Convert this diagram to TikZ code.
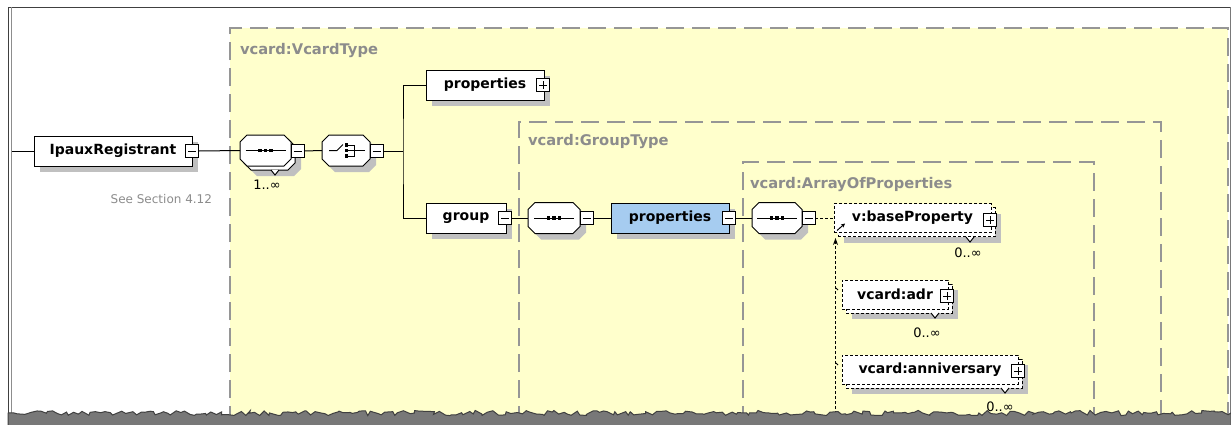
\documentclass[tikz,border=0pt]{standalone}
\usepackage{fontspec}
\setmainfont{DejaVu Sans}
\usetikzlibrary{shadows,decorations.pathmorphing,arrows.meta}

\definecolor{typebg}{RGB}{255,255,204}
\definecolor{typeline}{RGB}{150,150,150}
\definecolor{typelabel}{RGB}{140,140,140}
\definecolor{shade}{RGB}{192,192,192}
\definecolor{selfill}{RGB}{166,204,240}
\definecolor{frameline}{RGB}{64,64,64}
\definecolor{tornfill}{RGB}{120,120,120}

% octagonal outline of a compositor node, cut 7pt at each corner
\newcommand\compoutline[2]{%
  \path[#1] ([xshift=7pt]#2.north west) -- ([xshift=-7pt]#2.north east)
    -- ([yshift=-7pt]#2.north east) -- ([yshift=7pt]#2.south east)
    -- ([xshift=-7pt]#2.south east) -- ([xshift=7pt]#2.south west)
    -- ([yshift=7pt]#2.south west) -- ([yshift=-7pt]#2.north west) -- cycle;}

\tikzset{
  every node/.style={inner sep=0pt, outer sep=0pt},
  eshadow/.style={drop shadow={shadow xshift=6pt, shadow yshift=-6pt, fill=shade, opacity=1}},
  namefont/.style={font=\bfseries\fontsize{14}{16}\selectfont},
  elem/.style={draw=black, fill=white, minimum height=30, namefont, eshadow},
  dfront/.style={draw=black, fill=white, dash pattern=on 3pt off 2pt, minimum height=29, namefont},
  dback/.style={draw=black, fill=white, dash pattern=on 3pt off 2pt, minimum height=29, eshadow},
  comp/.style={rectangle, minimum height=31},
  compface/.style={draw=black, fill=white},
  compshade/.style={draw=black, fill=white, eshadow},
  minusbox/.style={draw=black, fill=white, minimum size=13,
    path picture={\draw ([xshift=2.5pt]path picture bounding box.west) -- ([xshift=-2.5pt]path picture bounding box.east);}},
  plusbox/.style={minusbox,
    path picture={\draw ([xshift=2.5pt]path picture bounding box.west) -- ([xshift=-2.5pt]path picture bounding box.east);
                  \draw ([yshift=-2.5pt]path picture bounding box.north) -- ([yshift=2.5pt]path picture bounding box.south);}},
  typedash/.style={draw=typeline, line width=1.3pt, dash pattern=on 18pt off 8pt},
  typename/.style={anchor=base west, text=typelabel, font=\bfseries\fontsize{14.7}{16}\selectfont},
  occurs/.style={anchor=base, font=\fontsize{13}{15}\selectfont},
  notch/.style={draw=black, fill=white},
  subst/.style={draw=black, dash pattern=on 3pt off 2pt},
  seqglyph/.pic={
    \draw (-20,0) -- (20,0);
    \foreach \dx in {-5.5,0,5.5}{\fill (\dx-1.8,-1.8) rectangle (\dx+1.8,1.8);}
  },
  choiceglyph/.pic={
    \draw (-17,0) -- (-9,0) -- (-3,-6);
    \foreach \dy in {-5.5,0,5.5}{\fill (-1.2,\dy-1.8) rectangle (2.4,\dy+1.8);}
    \draw (2.4,-5.5) -- (8,-5.5) -- (8,5.5) -- (2.4,5.5);
    \draw (2.4,0) -- (19,0);
  },
}

\begin{document}
\begin{tikzpicture}[x=1pt,y=-1pt,line width=1pt]
\useasboundingbox (0,0) rectangle (1231,424);
\fill[white] (0,0) rectangle (1231,424);

% nested complex types
\fill[typebg] (230,28) rectangle (1228,424);
\draw[typedash] (230,424) -- (230,28) -- (1228,28) -- (1228,424);
\draw[typedash] (519,424) -- (519,122) -- (1161,122) -- (1161,424);
\draw[typedash] (743,424) -- (743,162) -- (1094,162) -- (1094,424);
\node[typename] (tVcard) at (240,54) {vcard:VcardType};
\node[typename] (tGroup) at (528,145) {vcard:GroupType};
\node[typename] (tArray) at (750,188) {vcard:ArrayOfProperties};

% root element
\coordinate (lin) at (11,151);
\node[elem, minimum width=158] (ipaux) at (113,151) {IpauxRegistrant};
\node[minusbox] (ipauxm) at (192,151) {};
\node[anchor=base east, text=typelabel, font=\fontsize{12}{14}\selectfont] (ipauxdoc) at (212,203) {See Section 4.12};

% sequence 1..unbounded
\node[comp, minimum width=51] (seq1b) at (269.5,154.5) {};
\compoutline{compshade}{seq1b}
\node[comp, minimum width=51] (seq1) at (265.5,150.5) {};
\compoutline{compface}{seq1}
\pic at (seq1) {seqglyph};
\node[minusbox] (seq1m) at (297.5,151) {};
\draw[notch] (271,170) -- (275,175) -- (279,170);
\node[occurs] (seq1occ) at (267,189) {1..∞};

% choice
\node[comp, minimum width=48] (choice) at (346,150.5) {};
\compoutline{compshade}{choice}
\pic at (choice) {choiceglyph};
\node[minusbox] (choicem) at (376.5,151) {};
\coordinate (fork) at (403,151);

% choice branches
\node[elem, minimum width=118] (props1) at (485,85) {properties};
\node[plusbox] (props1p) at (543,85) {};
\node[elem, minimum width=80] (group) at (466,218) {group};
\node[minusbox] (groupm) at (505,218) {};

% group content
\node[comp, minimum width=52] (seq2) at (554,218) {};
\compoutline{compshade}{seq2}
\pic at (seq2) {seqglyph};
\node[minusbox] (seq2m) at (586.5,218) {};
\node[elem, fill=selfill, minimum width=118] (props2) at (670,218) {properties};
\node[minusbox] (props2m) at (729,218) {};
\node[comp, minimum width=50] (seq3) at (777,218) {};
\compoutline{compshade}{seq3}
\pic at (seq3) {seqglyph};
\node[minusbox] (seq3m) at (808.5,218) {};

% abstract head and substitutes
\node[dback, minimum width=157] (baseb) at (916.5,222) {};
\node[dfront, minimum width=157] (base) at (912.5,218) {v:baseProperty};
\node[plusbox] (basep) at (990,220) {};
\draw[notch] (966,237) -- (970,242) -- (974,237);
\node[occurs] (baseocc) at (968,257) {0..∞};

\node[dback, minimum width=106] (adrb) at (899,298.5) {};
\node[dfront, minimum width=106] (adr) at (895,294.5) {vcard:adr};
\node[plusbox] (adrp) at (947,296) {};
\draw[notch] (931,313) -- (935,318) -- (939,313);
\node[occurs] (adrocc) at (927,337) {0..∞};

\node[dback, minimum width=176] (annb) at (934,373.5) {};
\node[dfront, minimum width=176] (ann) at (930,369.5) {vcard:anniversary};
\node[plusbox] (annp) at (1018,371) {};
\draw[notch] (1001,388) -- (1005,393) -- (1009,388);
\node[occurs] (annocc) at (1000,411) {0..∞};

% connectors
\draw (lin) -- (ipaux.west);
\draw (ipauxm.east) -- (seq1.west);
\draw (seq1m.east) -- (choice.west);
\draw (choicem.east) -- (fork);
\draw (props1.west) -| (fork) |- (group.west);
\draw (groupm.east) -- (seq2.west);
\draw (seq2m.east) -- (props2.west);
\draw (props2m.east) -- (seq3.west);
\draw[subst] (seq3m.east) -- (base.west);

% substitution group line
\coordinate (subbot) at (835.5,424);
\coordinate (subtop) at (835.5,238);
\draw[subst, -{Stealth[length=7pt,width=5pt]}] (subbot) -- (subtop);
\draw[-{Stealth[length=4pt,width=4pt]}] ([shift={(3,-2)}]base.south west) -- ([shift={(11,-9)}]base.south west);
\draw ([shift={(-6,8)}]adr.north west) -- ([shift={(-4,10)}]adr.north west);
\draw ([shift={(-6,8)}]ann.north west) -- ([shift={(-4,10)}]ann.north west);

% window frame
\draw[frameline] (8,7) -- (1231,7);
\draw[frameline] (8,7) -- (8,424);
\draw[frameline!60] (11,7) -- (11,424);
\draw[frameline!70] (1230.5,7) -- (1230.5,424);

% torn lower edge
\pgfmathsetseed{11}
\filldraw[fill=tornfill, draw=frameline, line width=1pt,
  decoration={random steps, segment length=4pt, amplitude=2.6pt}]
  decorate{(8,413) -- (1231,413)} -- (1231,426) -- (8,426) -- cycle;
\end{tikzpicture}
\end{document}
